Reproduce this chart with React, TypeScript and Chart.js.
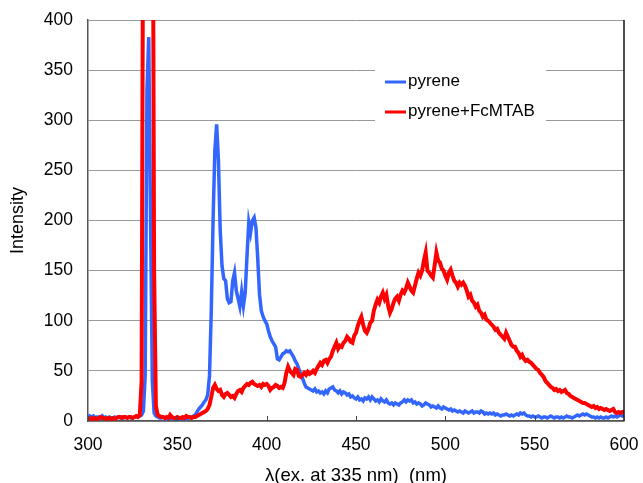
import React, { useEffect, useRef } from "react";
import { Chart, registerables } from "chart.js";

Chart.register(...registerables);

// Wavelength grid: first sample and spacing (nm)
const startNm = 300;
const stepNm = 1;

const seriesNames = ["pyrene", "pyrene+FcMTAB"];
const seriesColors = ["#3366FF", "#FF0000"];

const xTickValues = [300, 350, 400, 450, 500, 550, 600];
const yTickValues = [0, 50, 100, 150, 200, 250, 300, 350, 400];

const xTitle = "λ(ex. at 335 nm)  (nm)";
const yTitle = "Intensity";

// pyrene, 300..600 nm
const pyrene = [
  6, 5, 4, 5, 3, 4, 4, 3, 5, 3,
  4, 3, 4, 3, 3, 4, 3, 4, 3, 4,
  3, 4, 3, 4, 3, 3, 4, 4, 5, 5,
  6, 10, 45, 330, 383, 200, 40, 8, 5, 4,
  3, 3, 4, 3, 2, 3, 3, 2, 3, 3,
  2, 3, 2, 3, 3, 2, 3, 3, 4, 5,
  6, 9, 12, 14, 16, 19, 21, 26, 45, 110,
  200, 270, 296, 260, 190, 155, 142, 140, 122, 118,
  119, 140, 148, 130, 122, 114, 129, 115, 128, 165,
  198, 188, 200, 203, 193, 162, 126, 110, 104, 100,
  97, 90, 84, 80, 77, 74, 62, 61, 64, 67,
  68, 70, 69, 70, 67, 64, 60, 57, 52, 47,
  43, 38, 34, 33, 32, 31, 30, 32, 29, 30,
  28, 29, 27, 30, 28, 32, 33, 34, 31, 30,
  28, 30, 27, 29, 28, 26, 27, 24, 25, 23,
  22, 24, 21, 22, 20, 23, 22, 24, 21, 24,
  22, 20, 21, 19, 22, 20, 19, 21, 18, 17,
  18, 16, 18, 17, 16, 18, 19, 21, 19, 21,
  20, 21, 18, 19, 17, 18, 17, 15, 16, 18,
  17, 16, 14, 15, 14, 13, 15, 13, 12, 14,
  13, 12, 11, 12, 10, 11, 10, 9, 10, 9,
  8, 10, 9, 8, 9, 10, 8, 9, 9, 8,
  10, 9, 7, 8, 7, 8, 7, 8, 6, 7,
  6, 5, 6, 6, 7, 6, 5, 6, 5, 6,
  7, 6, 8, 7, 8, 6, 5, 5, 4, 5,
  4, 4, 5, 4, 3, 4, 4, 3, 4, 5,
  4, 3, 4, 4, 3, 4, 3, 4, 5, 4,
  4, 3, 4, 5, 6, 5, 6, 7, 6, 7,
  6, 5, 4, 4, 3, 4, 3, 4, 3, 3,
  4, 3, 4, 5, 4, 5, 4, 5, 6, 5,
  6,
];

// pyrene+FcMTAB, 300..600 nm
const pyreneFc = [
  3, 2, 3, 2, 3, 2, 3, 4, 3, 3,
  2, 3, 3, 2, 3, 2, 3, 4, 4, 3,
  4, 4, 3, 4, 4, 3, 4, 5, 4, 6,
  40, 600, 1200, 1500, 1500, 1200, 700, 150, 15, 6,
  5, 4, 4, 3, 4, 3, 6, 4, 3, 3,
  4, 3, 3, 4, 3, 5, 4, 4, 3, 4,
  4, 5, 6, 7, 8, 9, 10, 12, 16, 24,
  33, 36, 32, 30, 31, 26, 24, 27, 28, 26,
  24, 25, 23, 27, 30, 31, 29, 33, 35, 37,
  36, 38, 39, 37, 36, 35, 36, 34, 37, 36,
  37, 35, 31, 33, 34, 36, 35, 33, 34, 33,
  38, 48, 54, 50, 48, 46, 52, 51, 45, 44,
  46, 48, 46, 49, 47, 48, 50, 48, 52, 55,
  58, 56, 60, 61, 58, 62, 64, 70, 74, 78,
  72, 75, 74, 78, 80, 84, 82, 79, 78, 85,
  88, 95, 100, 104, 96, 90, 88, 92, 98, 100,
  110, 116, 121, 118, 124, 128, 122, 126, 115, 108,
  112, 118, 122, 124, 120, 126, 130, 128, 132, 138,
  134, 130, 128, 135, 142, 148, 145, 150, 160, 168,
  150, 148, 145, 143, 155, 168, 160, 158, 152, 150,
  145, 141, 148, 151, 145, 140, 138, 134, 138, 136,
  138, 135, 130, 124, 126, 120, 118, 114, 116, 110,
  108, 104, 106, 101, 100, 98, 96, 94, 91, 92,
  88, 86, 84, 82, 88, 84, 80, 76, 74, 74,
  70, 68, 64, 66, 62, 60, 61, 59, 58, 56,
  54, 52, 51, 48, 46, 44, 40, 38, 36, 34,
  33, 31, 32, 30, 31, 29, 30, 31, 28, 27,
  25, 24, 23, 22, 21, 20, 19, 18, 18, 17,
  16, 15, 14, 15, 13, 14, 12, 13, 12, 11,
  12, 11, 10, 11, 12, 9, 8, 9, 8, 9,
  9,
];

const FONT = "'Liberation Sans', Arial, sans-serif";

function toPoints(values: number[]) {
  return values.map((v, i) => ({ x: startNm + i * stepNm, y: v }));
}

const overlayPlugin = {
  id: "overlay",
  beforeDatasetsDraw(chart: any) {
    const { ctx } = chart;
    ctx.save();
    // legend box
    ctx.fillStyle = "#ffffff";
    ctx.fillRect(375, 58, 171, 70);
    const rows = [81, 111];
    seriesNames.forEach((name, i) => {
      const y = rows[i];
      ctx.strokeStyle = seriesColors[i];
      ctx.lineWidth = 3;
      ctx.beginPath();
      ctx.moveTo(385, y + 1);
      ctx.lineTo(406, y + 1);
      ctx.stroke();
      ctx.fillStyle = "#000";
      ctx.font = `17px ${FONT}`;
      ctx.textBaseline = "middle";
      ctx.textAlign = "left";
      ctx.fillText(name, 408, y);
    });
    ctx.restore();
  },
  afterDraw(chart: any) {
    const { ctx, chartArea, scales } = chart;
    const { top, bottom, right } = chartArea;
    ctx.save();
    ctx.strokeStyle = "#111";
    ctx.lineWidth = 1.5;
    ctx.beginPath();
    ctx.moveTo(right, top);
    ctx.lineTo(right, bottom);
    ctx.stroke();
    ctx.strokeStyle = "#444";
    ctx.lineWidth = 1;
    ctx.beginPath();
    for (const v of xTickValues) {
      const px = Math.round(scales.x.getPixelForValue(v)) + 0.5;
      ctx.moveTo(px, bottom);
      ctx.lineTo(px, bottom - 5);
    }
    ctx.stroke();
    ctx.restore();
  },
};

export default function App() {
  const ref = useRef<HTMLCanvasElement | null>(null);

  useEffect(() => {
    const canvas = ref.current;
    if (!canvas) return;
    const chart = new Chart(canvas, {
      type: "line",
      data: {
        datasets: [
          {
            label: seriesNames[1],
            data: toPoints(pyreneFc),
            borderColor: seriesColors[1],
            borderWidth: 4,
            pointRadius: 0,
            tension: 0,
            fill: false,
            order: 0,
          },
          {
            label: seriesNames[0],
            data: toPoints(pyrene),
            borderColor: seriesColors[0],
            borderWidth: 3.5,
            pointRadius: 0,
            tension: 0,
            fill: false,
            order: 1,
          },
        ],
      },
      options: {
        responsive: false,
        animation: false,
        devicePixelRatio: 1,
        layout: { padding: { left: 0, right: 19, top: 20, bottom: 0 } },
        plugins: {
          legend: { display: false },
          tooltip: { enabled: false },
        },
        scales: {
          x: {
            type: "linear",
            min: 300,
            max: 600,
            afterBuildTicks: (s: any) => {
              s.ticks = xTickValues.map((v) => ({ value: v }));
            },
            ticks: {
              font: { family: FONT, size: 17.5 },
              color: "#000",
              padding: 14,
              maxRotation: 0,
            },
            grid: { display: false, drawTicks: false },
            border: { display: true, color: "#555", width: 1.5 },
            title: {
              display: true,
              text: xTitle,
              font: { family: FONT, size: 18.5 },
              color: "#000",
              padding: { top: 0, bottom: -4 },
            },
            afterFit: (s: any) => {
              s.height = 62;
              s.paddingLeft = 0;
              s.paddingRight = 0;
            },
          },
          y: {
            type: "linear",
            min: 0,
            max: 400,
            afterBuildTicks: (s: any) => {
              s.ticks = yTickValues.map((v) => ({ value: v }));
            },
            ticks: {
              font: { family: FONT, size: 17.5 },
              color: "#000",
              padding: 15,
            },
            grid: { color: "#999", lineWidth: 1, drawTicks: false },
            border: { display: true, color: "#555", width: 1.5 },
            title: {
              display: true,
              text: yTitle,
              font: { family: FONT, size: 18 },
              color: "#000",
              padding: { top: 7, bottom: 0 },
            },
            afterFit: (s: any) => {
              s.width = 88;
              s.paddingTop = 0;
              s.paddingBottom = 0;
            },
          },
        },
      },
      plugins: [overlayPlugin],
    });
    return () => chart.destroy();
  }, []);

  return (
    <div style={{ position: "fixed", left: 0, top: 0, width: 643, height: 483, background: "#fff" }}>
      <canvas ref={ref} width={643} height={483} />
    </div>
  );
}
